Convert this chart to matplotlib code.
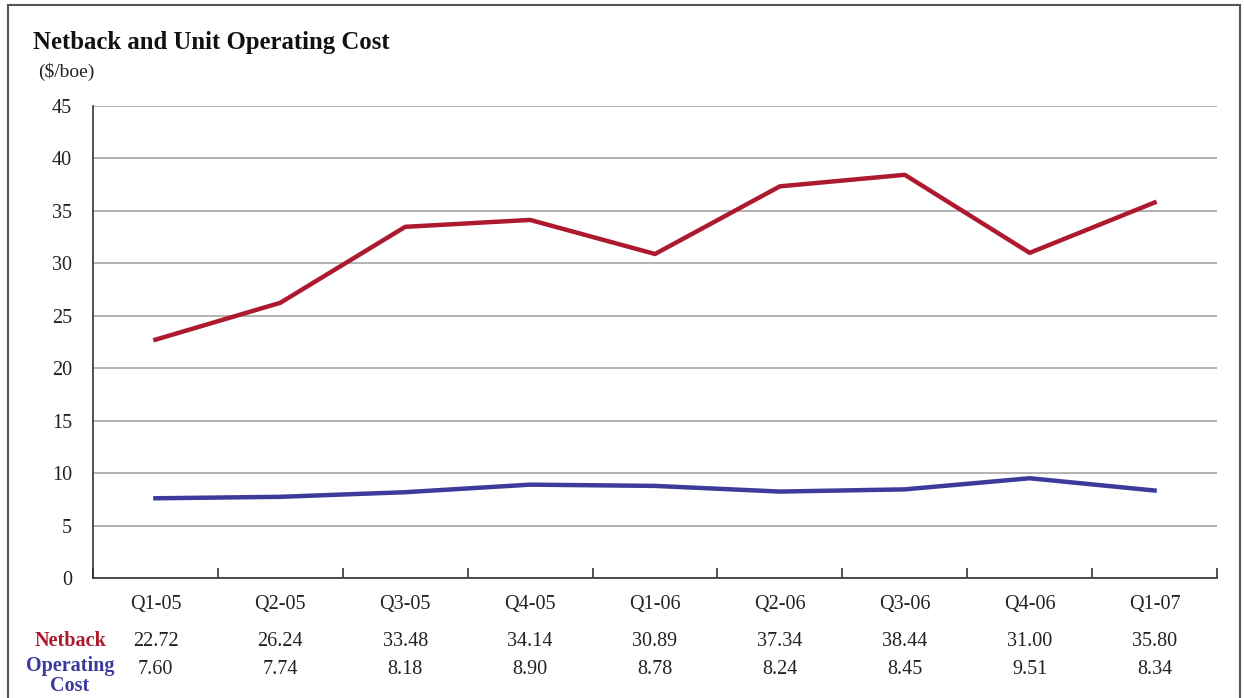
import matplotlib.pyplot as plt
from matplotlib.patches import Rectangle

# ── Data ──────────────────────────────────────────────────────
quarters = ["Q1-05", "Q2-05", "Q3-05", "Q4-05", "Q1-06",
            "Q2-06", "Q3-06", "Q4-06", "Q1-07"]
netback = [22.72, 26.24, 33.48, 34.14, 30.89, 37.34, 38.44, 31.00, 35.80]
op_cost = [7.60, 7.74, 8.18, 8.90, 8.78, 8.24, 8.45, 9.51, 8.34]

RED = "#ad1a30"
BLUE = "#3c3a9a"
TXT = "#222222"
FS = 14.5

plt.rcParams["font.family"] = ["Liberation Serif", "DejaVu Serif"]

W, H = 1244, 698
fig = plt.figure(figsize=(W / 100, H / 100), dpi=100)
ax = fig.add_axes([93 / W, 1 - 578 / H, (1217 - 93) / W, (578 - 106) / H])

x = list(range(len(quarters)))
ax.plot(x, netback, color=RED, lw=3.2, zorder=3)
ax.plot(x, op_cost, color=BLUE, lw=3.2, zorder=3)

ax.set_xlim(-0.5, len(quarters) - 0.5)
ax.set_ylim(0, 45)
ax.set_yticks(range(0, 46, 5))
ax.grid(axis="y", color="#a6a6a6", lw=1.2)
ax.set_axisbelow(True)

# category boundaries as ticks pointing up
ax.set_xticks([i - 0.5 for i in range(len(quarters) + 1)])
ax.set_xticklabels([])
ax.tick_params(axis="x", direction="in", length=7, width=1.2, color="#333333")
ax.tick_params(axis="y", length=0, pad=15, labelsize=FS, labelcolor=TXT)

for s in ["top", "right"]:
    ax.spines[s].set_visible(False)
for s in ["left", "bottom"]:
    ax.spines[s].set_color("#333333")
    ax.spines[s].set_linewidth(1.2)

# category labels + data table rows (offsets in pixels below the x axis)
trans = ax.get_xaxis_transform()
rows = [(quarters, 604 - 578),
        ([f"{v:.2f}" for v in netback], 641 - 578),
        ([f"{v:.2f}" for v in op_cost], 669 - 578)]
for labels, off in rows:
    for i, s in enumerate(labels):
        ax.annotate(s, xy=(i, 0), xycoords=trans,
                    xytext=(0, -off), textcoords="offset pixels",
                    ha="center", va="center", fontsize=FS, color=TXT,
                    annotation_clip=False)

fig.text(70 / W, 1 - 641 / H, "Netback", ha="center", va="center",
         fontsize=FS, fontweight="bold", color=RED)
fig.text(70 / W, 1 - 676 / H, "Operating\nCost", ha="center", va="center",
         fontsize=FS, fontweight="bold", color=BLUE, linespacing=0.95)

# title and unit
fig.text(33 / W, 1 - 42 / H, "Netback and Unit Operating Cost",
         ha="left", va="center", fontsize=17.8, fontweight="bold", color="#111111")
fig.text(38 / W, 1 - 72 / H, "($/boe)", ha="left", va="center",
         fontsize=14, color=TXT)

# outer frame
fig.patches.append(Rectangle((8 / W, -0.05), (1240 - 8) / W, 1.05 - 5 / H,
                             transform=fig.transFigure, fill=False,
                             edgecolor="#555555", lw=1.5))

plt.savefig("out.png", dpi=100)
plt.close()
